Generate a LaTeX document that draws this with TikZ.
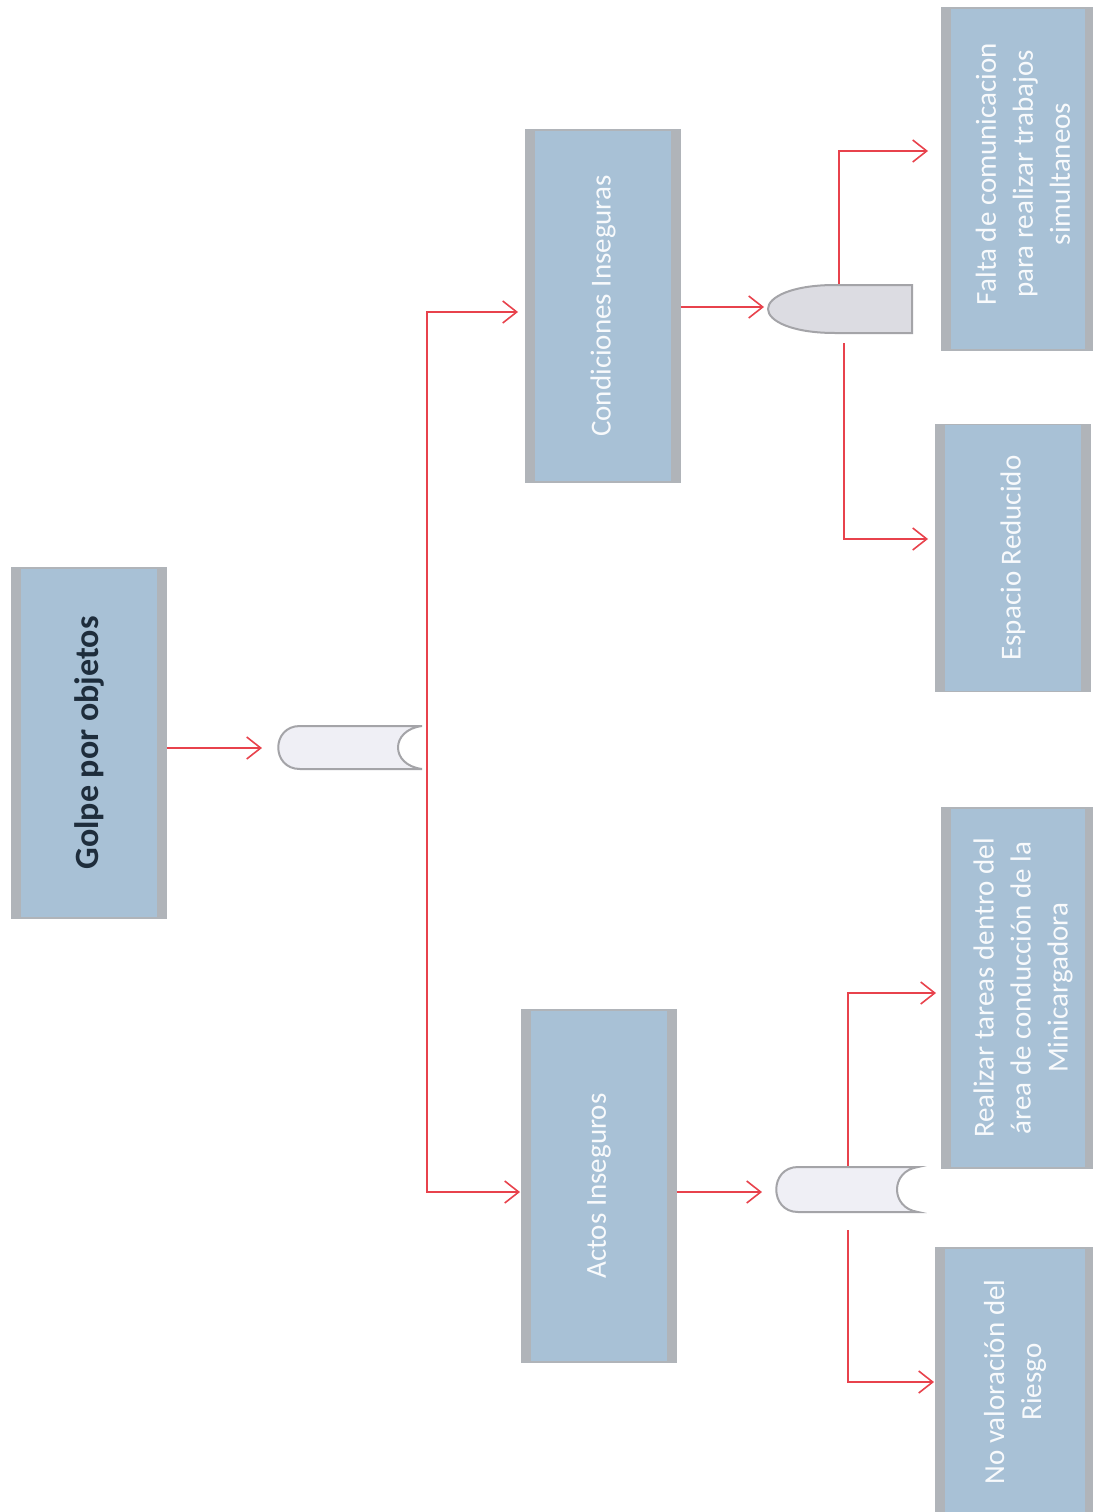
\documentclass[tikz,border=0pt]{standalone}
\usepackage{fontspec}
\setmainfont{Carlito}
\usetikzlibrary{arrows.meta}
\definecolor{boxblue}{HTML}{A8C1D6}
\definecolor{boxgray}{HTML}{B0B4B9}
\definecolor{linered}{HTML}{E8424C}
\definecolor{gatefill}{HTML}{EFEFF5}
\definecolor{andfill}{HTML}{DCDCE2}
\definecolor{gateline}{HTML}{A4A4A8}
\definecolor{titletext}{HTML}{1E2D3C}
\begin{document}
\begin{tikzpicture}[x=1pt,y=-1pt,
  box/.style={rectangle, inner sep=0pt, fill=boxblue, draw=boxgray, line width=1.5pt,
    path picture={
      \fill[boxgray] (path picture bounding box.south west) rectangle ([xshift=9pt]path picture bounding box.north west);
      \fill[boxgray] (path picture bounding box.south east) rectangle ([xshift=-9pt]path picture bounding box.north east);
    }},
  lbl/.style={rotate=90, align=center, text=white!92!boxblue, font=\fontsize{29}{37}\selectfont},
  title/.style={rotate=90, align=center, text=titletext, font=\fontsize{34}{41}\selectfont\bfseries},
  conn/.style={draw=linered, line width=1.6pt},
  arr/.style={conn, -{Straight Barb[length=14pt,width=22pt]}},
  orgate/.style={fill=gatefill, draw=gateline, line width=2pt},
  andgate/.style={fill=andfill, draw=gateline, line width=2pt}
]
\useasboundingbox (0,0) rectangle (1092,1512);
\fill[white] (0,0) rectangle (1092,1512);

% boxes
\node[box, minimum width=154pt, minimum height=350pt] (golpe) at (89,743) {};
\node[title] (golpe-t) at (golpe) {Golpe por objetos};

\node[box, minimum width=154pt, minimum height=352pt] (cond) at (603,306) {};
\node[lbl] (cond-t) at (cond) {Condiciones Inseguras};

\node[box, minimum width=154pt, minimum height=352pt] (actos) at (599,1186) {};
\node[lbl] (actos-t) at (actos) {Actos Inseguros};

\node[box, minimum width=152pt, minimum height=342pt] (falta) at (1018,179) {};
\node[lbl] (falta-t) at (1023,174) {Falta de comunicacion\\para realizar trabajos\\simultaneos};

\node[box, minimum width=154pt, minimum height=267pt] (espacio) at (1013,558) {};
\node[lbl] (espacio-t) at (espacio) {Espacio Reducido};

\node[box, minimum width=152pt, minimum height=360pt] (realizar) at (1018,988) {};
\node[lbl] (realizar-t) at (1023,988) {Realizar tareas dentro del\\área de conducción de la\\Minicargadora};

\node[box, minimum width=158pt, minimum height=266pt] (noval) at (1015,1381) {};
\node[lbl] (noval-t) at (1015,1382) {No valoración del\\Riesgo};

% gate anchor coordinates
\coordinate (g1in) at (262,748);
\coordinate (g1out) at (427,748);
\coordinate (c1) at (518,312);
\coordinate (a1) at (520,1192);
\coordinate (g2in) at (764,307);
\coordinate (g2top) at (839,285);
\coordinate (g2bot) at (844,343);
\coordinate (f1) at (928,151);
\coordinate (e1) at (928,539);
\coordinate (g3in) at (762,1192);
\coordinate (g3top) at (848,1167);
\coordinate (g3bot) at (848,1230);
\coordinate (r1) at (936,993);
\coordinate (n1) at (934,1382);

% connectors
\draw[arr] (golpe.east |- g1in) -- (g1in);
\draw[arr] (g1out) |- (c1);
\draw[arr] (g1out) |- (a1);
\draw[arr] (cond.east |- g2in) -- (g2in);
\draw[arr] (g2top) |- (f1);
\draw[arr] (g2bot) |- (e1);
\draw[arr] (actos.east |- g3in) -- (g3in);
\draw[arr] (g3top) |- (r1);
\draw[arr] (g3bot) |- (n1);

% gates
\filldraw[orgate] (422,726) -- (300,726) .. controls (271,726) and (271,769) .. (300,769) -- (422,769) .. controls (390,765) and (390,730) .. (422,726) -- cycle;
\filldraw[andgate] (912,285) -- (835,285) .. controls (792,285) and (768,297) .. (768,309) .. controls (768,321) and (792,333) .. (835,333) -- (912,333) -- cycle;
\filldraw[orgate] (918,1167) -- (798,1167) .. controls (769,1167) and (769,1212) .. (798,1212) -- (918,1212) .. controls (890,1208) and (890,1171) .. (918,1167) -- cycle;
\end{tikzpicture}
\end{document}
